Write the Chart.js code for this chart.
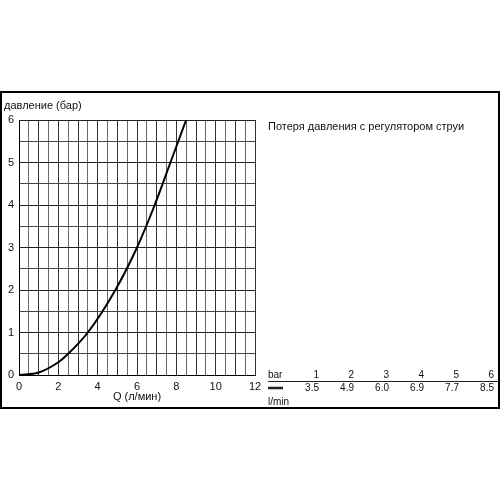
<!DOCTYPE html>
<html>
<head>
<meta charset="utf-8">
<script src="https://cdn.jsdelivr.net/npm/chart.js@4"></script>
<style>
  html, body { margin: 0; padding: 0; background: #fff; }
  canvas { display: block; }
</style>
</head>
<body>
<canvas id="pressurechart" width="500" height="500"></canvas>
<script>
// curve (Q in l/min, pressure in bar)
const flowQ = [0, 1, 2, 2.5, 3.5, 4.9, 6.0, 6.9, 7.7, 8.5];
const pressure = [0, 0.06, 0.3, 0.5, 1, 2, 3, 4, 5, 6];

// table at the bottom right
const tableBar = [1, 2, 3, 4, 5, 6];
const tableLmin = ['3.5', '4.9', '6.0', '6.9', '7.7', '8.5'];

const yLabel = 'давление (бар)';
const xLabel = 'Q (л/мин)';
const legendText = 'Потеря давления с регулятором струи';

const FONT = '"Liberation Sans", Arial, sans-serif';

const extras = {
    id: 'extras',
    afterDraw(chart) {
        const ctx = chart.ctx;
        const area = chart.chartArea;
        ctx.save();

        // frame
        ctx.strokeStyle = '#000';
        ctx.lineWidth = 2;
        ctx.strokeRect(1, 92, 498, 316);

        ctx.fillStyle = '#111';
        ctx.font = '11px ' + FONT;
        ctx.textBaseline = 'middle';
        ctx.textAlign = 'left';
        ctx.fillText(yLabel, 4, 106);
        ctx.textAlign = 'center';
        ctx.fillText(xLabel, (area.left + area.right) / 2, 397);

        ctx.textAlign = 'left';
        ctx.fillText(legendText, 268, 127);

        // table
        ctx.font = '10px ' + FONT;
        ctx.fillText('bar', 268, 375);
        ctx.fillText('l/min', 268, 402);
        ctx.textAlign = 'right';
        tableBar.forEach((b, i) => {
            const xr = 319 + 35 * i;
            ctx.fillText(String(b), xr, 375);
            ctx.fillText(tableLmin[i], xr, 388);
        });
        ctx.strokeStyle = '#222';
        ctx.lineWidth = 1;
        ctx.beginPath();
        ctx.moveTo(268, 381.5);
        ctx.lineTo(499, 381.5);
        ctx.stroke();
        ctx.lineWidth = 2.5;
        ctx.beginPath();
        ctx.moveTo(268, 388);
        ctx.lineTo(283, 388);
        ctx.stroke();

        ctx.restore();
    }
};

const ctx = document.getElementById('pressurechart').getContext('2d');
const pressurechart = new Chart(ctx, {
    type: 'scatter',
    data: {
        datasets: [{
            data: flowQ.map((q, i) => ({ x: q, y: pressure[i] })),
            showLine: true,
            borderColor: '#000',
            borderWidth: 2,
            pointRadius: 0,
            cubicInterpolationMode: 'monotone',
            fill: false
        }]
    },
    options: {
        responsive: false,
        animation: false,
        layout: { padding: { left: 0, top: 120, right: 245, bottom: 107 } },
        plugins: { legend: { display: false }, tooltip: { enabled: false } },
        scales: {
            x: {
                type: 'linear',
                min: 0,
                max: 12,
                afterFit: s => { s.height = 18; },
                border: { display: true, color: '#000', width: 1 },
                grid: {
                    color: c => (c.tick && c.tick.value % 1 === 0) ? '#333' : '#666',
                    drawTicks: false,
                    lineWidth: 1
                },
                ticks: {
                    stepSize: 0.5,
                    autoSkip: false,
                    maxRotation: 0,
                    padding: 5,
                    color: '#111',
                    font: { family: FONT, size: 11 },
                    callback: v => (v % 2 === 0 ? String(v) : '')
                }
            },
            y: {
                type: 'linear',
                min: 0,
                max: 6,
                afterFit: s => { s.width = 19; },
                border: { display: true, color: '#000', width: 1 },
                grid: {
                    color: c => (c.tick && c.tick.value % 1 === 0) ? '#222' : '#444',
                    drawTicks: false,
                    lineWidth: 1
                },
                ticks: {
                    stepSize: 0.5,
                    autoSkip: false,
                    padding: 5,
                    color: '#111',
                    font: { family: FONT, size: 11 },
                    callback: v => (v % 1 === 0 ? String(v) : '')
                }
            }
        }
    },
    plugins: [extras]
});
</script>
</body>
</html>
